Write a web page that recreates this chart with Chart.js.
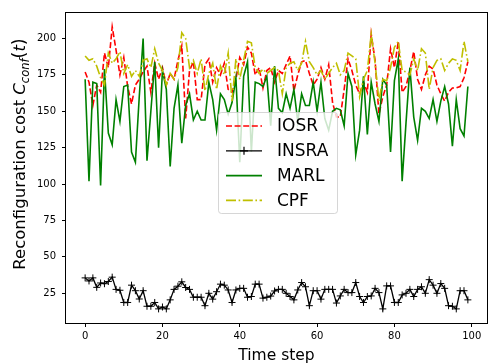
<!DOCTYPE html>
<html>
<head>
<meta charset="utf-8">
<script src="https://cdn.jsdelivr.net/npm/chart.js@4.4.1/dist/chart.umd.min.js"></script>
<style>
  html, body { margin: 0; padding: 0; overflow: hidden; background: #fff; }
  canvas { display: block; }
</style>
</head>
<body>
<canvas id="chart" width="492" height="364"></canvas>
<script>
// time steps 0..99
const steps = Array.from({ length: 100 }, (_, i) => i);

const iosr = [
  177, 170, 154, 168, 163, 190, 180, 208, 192, 175,
  187, 167, 155, 168, 172, 177, 181, 163, 183, 172,
  180, 168, 176, 172, 185, 195, 145, 178, 184, 158,
  158, 182, 186, 170, 180, 175, 183, 165, 163, 172,
  187, 182, 194, 190, 175, 180, 166, 178, 180, 170,
  178, 176, 182, 188, 164, 175, 184, 185, 176, 168,
  172, 180, 172, 182, 156, 146, 146, 165, 186, 178,
  168, 162, 170, 163, 203, 185, 148, 160, 168, 193,
  180, 198, 163, 167, 178, 191, 172, 165, 175, 181,
  179, 168, 162, 157, 163, 166, 166, 167, 173, 184,
];

const insra = [
  35.5, 33.4, 35.5, 29, 32, 31.5, 33, 36, 27.6, 27,
  18.6, 18.6, 30.5, 26.7, 21, 26.7, 16, 16, 18.6, 14.2,
  15.5, 14.2, 20.4, 27.6, 29.8, 32.8, 28.9, 27.6, 22.2, 22.2,
  22.2, 16.4, 24.9, 20.9, 26, 31.2, 30.5, 27.2, 18.6, 27.2,
  28.3, 28.3, 22.2, 22.7, 31.2, 31.2, 21.6, 22.2, 23, 26.5,
  27.6, 27.6, 24.9, 22.7, 20.4, 27.2, 32.3, 29.4, 16.4, 26.7,
  26.7, 20.9, 27.6, 27.6, 27.6, 18.2, 23.1, 27.6, 25.4, 25.4,
  32.3, 22.7, 18.6, 22.7, 23.1, 28.3, 25.4, 14.2, 30, 30,
  18.6, 18.6, 23.8, 24.9, 27.6, 22.7, 27.6, 29.4, 24.9, 34.3,
  30.5, 24.9, 31.6, 28.3, 16.4, 16, 14.2, 26.7, 26.7, 20.4,
];

const marl = [
  172, 102, 170, 169, 99, 179, 135, 127, 158, 143,
  167, 168, 122, 115, 160, 200, 116, 150, 184, 125,
  178, 165, 112, 152, 168, 128, 154, 162, 144, 150,
  144, 144, 170, 158, 137, 162, 158, 148, 156, 173,
  115, 174, 184, 122, 170, 169, 167, 174, 140, 181,
  152, 149, 162, 152, 165, 143, 162, 154, 154, 170,
  150, 170, 145, 137, 150, 152, 151, 140, 176, 167,
  120, 137, 174, 134, 170, 155, 143, 172, 168, 122,
  171, 186, 102, 142, 180, 146, 130, 152, 150, 145,
  158, 143, 157, 167, 155, 126, 158, 138, 133, 167,
];

const cpf = [
  188, 185, 186, 181, 173, 168, 190, 183, 186, 191,
  176, 182, 174, 178, 174, 185, 186, 180, 193, 183,
  178, 168, 176, 172, 180, 204, 200, 180, 185, 176,
  186, 164, 176, 183, 165, 181, 175, 190, 157, 186,
  172, 185, 198, 197, 180, 176, 179, 176, 178, 180,
  178, 162, 180, 183, 184, 178, 183, 198, 184, 180,
  175, 178, 172, 176, 180, 183, 175, 178, 190, 188,
  186, 160, 172, 178, 203, 183, 157, 172, 171, 180,
  194, 198, 178, 177, 175, 186, 178, 193, 190, 165,
  180, 185, 186, 178, 183, 186, 185, 178, 198, 184,
];

const seriesNames = ["IOSR", "INSRA", "MARL", "CPF"];
const xTicks = [0, 20, 40, 60, 80, 100];
const yTicks = [25, 50, 75, 100, 125, 150, 175, 200];

const FONT = "DejaVu Sans";
const pts = (vals) => vals.map((v, i) => ({ x: steps[i], y: v }));

// axes frame (matplotlib draws all four spines)
const framePlugin = {
  id: "frame",
  afterDraw(chart) {
    const { ctx, chartArea: a } = chart;
    ctx.save();
    ctx.strokeStyle = "#000";
    ctx.lineWidth = 1;
    ctx.strokeRect(Math.round(a.left) - 0.5, Math.round(a.top) + 0.5,
      Math.round(a.right - a.left) + 1, Math.round(a.bottom - a.top));
    ctx.restore();
  },
};

// legend box sitting in the middle of the plot
const legendPlugin = {
  id: "midLegend",
  afterDatasetsDraw(chart) {
    const { ctx } = chart;
    const bx = 218, by = 112, bw = 119, bh = 101, r = 3;
    ctx.save();
    ctx.beginPath();
    ctx.roundRect(bx + 0.5, by + 0.5, bw, bh, r);
    ctx.fillStyle = "rgba(255,255,255,0.8)";
    ctx.fill();
    ctx.strokeStyle = "rgba(204,204,204,0.8)";
    ctx.lineWidth = 1;
    ctx.stroke();

    chart.data.datasets.forEach((ds, i) => {
      const cy = 126 + i * 24.8;
      ctx.beginPath();
      ctx.setLineDash(ds.borderDash || []);
      ctx.strokeStyle = ds.borderColor;
      ctx.lineWidth = ds.borderWidth;
      ctx.moveTo(226, cy);
      ctx.lineTo(262, cy);
      ctx.stroke();
      ctx.setLineDash([]);
      if (ds.pointStyle === "cross") {
        ctx.beginPath();
        ctx.lineWidth = 1.2;
        ctx.moveTo(244, cy - 4);
        ctx.lineTo(244, cy + 4);
        ctx.moveTo(240, cy);
        ctx.lineTo(248, cy);
        ctx.stroke();
      }
      ctx.fillStyle = "#000";
      ctx.font = `17px "${FONT}"`;
      ctx.textBaseline = "middle";
      ctx.fillText(ds.label, 277, cy + 1);
    });
    ctx.restore();
  },
};

// y title with math-style subscript, x title
const titlesPlugin = {
  id: "titles",
  afterDraw(chart) {
    const { ctx, chartArea: a } = chart;
    ctx.save();
    ctx.fillStyle = "#000";
    ctx.textBaseline = "alphabetic";
    ctx.font = `15.5px "${FONT}"`;
    ctx.textAlign = "center";
    ctx.fillText("Time step", (a.left + a.right) / 2, 360);

    const parts = [
      { t: "Reconfiguration cost ", f: `16.5px "${FONT}"`, dy: 0 },
      { t: "C", f: `italic 16.5px "${FONT}"`, dy: 0 },
      { t: "conf", f: `italic 11.5px "${FONT}"`, dy: 3.8 },
      { t: "(", f: `17.5px "${FONT}"`, dy: 0 },
      { t: "t", f: `italic 16.5px "${FONT}"`, dy: 0 },
      { t: ")", f: `17.5px "${FONT}"`, dy: 0 },
    ];
    ctx.textAlign = "left";
    let total = 0;
    parts.forEach((p) => { ctx.font = p.f; p.w = ctx.measureText(p.t).width; total += p.w; });
    ctx.translate(25, 154);
    ctx.rotate(-Math.PI / 2);
    let x = -total / 2;
    parts.forEach((p) => {
      ctx.font = p.f;
      ctx.fillText(p.t, x, p.dy);
      x += p.w;
    });
    ctx.restore();
  },
};

const axisCommon = {
  type: "linear",
  grid: { drawOnChartArea: false, drawTicks: true, tickLength: 4, tickColor: "#000", tickWidth: 1 },
  border: { display: false },
  ticks: { font: { family: FONT, size: 10 }, color: "#000", autoSkip: false, maxRotation: 0 },
};

new Chart(document.getElementById("chart"), {
  type: "line",
  data: {
    datasets: [
      {
        label: seriesNames[0], data: pts(iosr), borderColor: "#ff0000", borderWidth: 1.6,
        borderDash: [6, 2.6], pointRadius: 0, order: 4,
      },
      {
        label: seriesNames[1], data: pts(insra), borderColor: "#000000", borderWidth: 1.3,
        pointStyle: "cross", pointRadius: 3.5, pointBorderWidth: 1, pointBorderColor: "#000", order: 3,
      },
      {
        label: seriesNames[2], data: pts(marl), borderColor: "#008000", borderWidth: 1.6,
        pointRadius: 0, order: 2,
      },
      {
        label: seriesNames[3], data: pts(cpf), borderColor: "#bfbf00", borderWidth: 1.6,
        borderDash: [10, 2.6, 1.6, 2.6], pointRadius: 0, order: 1,
      },
    ],
  },
  options: {
    responsive: false,
    animation: false,
    devicePixelRatio: 1,
    layout: { padding: { top: 6, right: 1, left: 0, bottom: 0 } },
    plugins: { legend: { display: false }, tooltip: { enabled: false } },
    elements: { line: { tension: 0 } },
    scales: {
      x: {
        ...axisCommon,
        min: -4.95, max: 103.95,
        ticks: { ...axisCommon.ticks, padding: 3 },
        afterBuildTicks: (s) => { s.ticks = xTicks.map((v) => ({ value: v })); },
        afterFit: (s) => { s.height = 41; },
      },
      y: {
        ...axisCommon,
        min: 4.5, max: 218.2,
        ticks: { ...axisCommon.ticks, padding: 6 },
        afterBuildTicks: (s) => { s.ticks = yTicks.map((v) => ({ value: v })); },
        afterFit: (s) => { s.width = 66; },
      },
    },
  },
  plugins: [framePlugin, legendPlugin, titlesPlugin],
});
</script>
</body>
</html>
